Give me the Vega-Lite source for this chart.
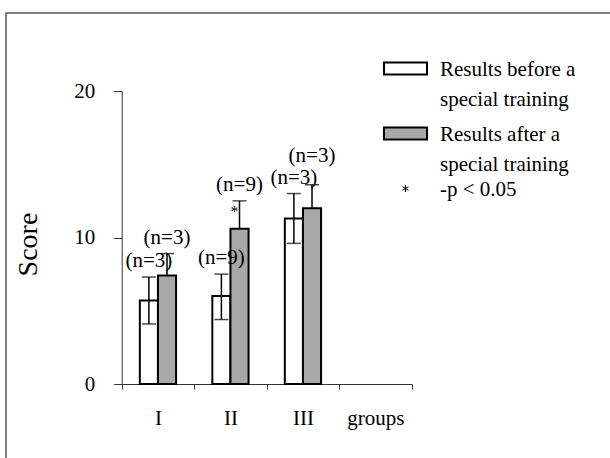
{
  "$schema": "https://vega.github.io/schema/vega-lite/v6.json",
  "width": 604,
  "height": 445,
  "autosize": {"type": "none"},
  "padding": {"left": 6, "top": 13, "right": 0, "bottom": 0},
  "background": "white",
  "config": {
    "view": {"stroke": "#555555", "strokeWidth": 1.5, "strokeDash": [604, 1049, 445]},
    "font": "Liberation Serif",
    "text": {"font": "Liberation Serif"},
    "legend": {"labelFont": "Liberation Serif"}
  },
  "data": {
    "values": [
      {"group": "I", "series": "before", "value": 5.7, "lo": 4.1, "hi": 7.3, "n": "(n=3)", "sig": false},
      {"group": "I", "series": "after", "value": 7.4, "lo": 5.9, "hi": 8.9, "n": "(n=3)", "sig": false},
      {"group": "II", "series": "before", "value": 6.0, "lo": 4.4, "hi": 7.5, "n": "(n=9)", "sig": false},
      {"group": "II", "series": "after", "value": 10.6, "lo": 8.7, "hi": 12.5, "n": "(n=9)", "sig": true},
      {"group": "III", "series": "before", "value": 11.3, "lo": 9.6, "hi": 13.0, "n": "(n=3)", "sig": false},
      {"group": "III", "series": "after", "value": 12.0, "lo": 10.4, "hi": 13.6, "n": "(n=3)", "sig": false}
    ]
  },
  "encoding": {
    "x": {
      "field": "group",
      "type": "nominal",
      "sort": null,
      "scale": {"domain": ["I", "II", "III", "groups"], "range": [115.7, 405.7], "paddingInner": 0, "paddingOuter": 0},
      "axis": {
        "title": null,
        "offset": -74,
        "labelAngle": 0,
        "labelFont": "Liberation Serif",
        "labelFontSize": 21,
        "labelColor": "black",
        "labelPadding": 18,
        "tickBand": "extent",
        "tickSize": 5,
        "domainColor": "#333333",
        "tickColor": "#333333",
        "encode": {"ticks": {"update": {"y": {"value": -5}}}}
      }
    },
    "xOffset": {
      "field": "series",
      "type": "nominal",
      "scale": {"domain": ["before", "after"], "paddingInner": 0, "paddingOuter": 1.1}
    }
  },
  "layer": [
    {
      "mark": {"type": "bar", "stroke": "black", "strokeWidth": 2},
      "encoding": {
        "y": {
          "field": "value",
          "type": "quantitative",
          "scale": {"domain": [0, 20], "range": [371, 78], "nice": false, "zero": true},
          "axis": {
            "values": [0, 10, 20],
            "offset": -115.7,
            "grid": false,
            "title": "Score",
            "titleFont": "Liberation Serif",
            "titleFontSize": 28,
            "titleFontWeight": "normal",
            "titleColor": "black",
            "titlePadding": 31,
            "titleY": 231,
            "labelFont": "Liberation Serif",
            "labelFontSize": 21,
            "labelColor": "black",
            "labelPadding": 19,
            "tickSize": 8,
            "domainColor": "#333333",
            "tickColor": "#333333",
            "encode": {"ticks": {"update": {"x": {"value": 8}}}}
          }
        },
        "fill": {
          "field": "series",
          "type": "nominal",
          "scale": {"domain": ["before", "after", "sig"], "range": ["white", "#a8a8a8", "white"]},
          "legend": {
            "orient": "none",
            "legendX": 389,
            "legendY": 45,
            "title": null,
            "padding": 0,
            "symbolType": "M-1,-0.279L1,-0.279L1,0.279L-1,0.279Z",
            "symbolSize": 1849,
            "symbolStrokeColor": "black",
            "symbolStrokeWidth": 2,
            "labelFont": "Liberation Serif",
            "labelFontSize": 21,
            "labelColor": "black",
            "labelLimit": 400,
            "labelOffset": 24,
            "labelBaseline": "alphabetic",
            "rowPadding": 3,
            "labelExpr": "datum.value == 'before' ? ['Results before a', 'special training'] : datum.value == 'after' ? ['Results after a', 'special training'] : '-p < 0.05'",
            "encode": {
              "symbols": {
                "update": {
                  "shape": {"signal": "datum.value == 'sig' ? 'M0,-0.16L0,0.16M-0.14,-0.08L0.14,0.08M-0.14,0.08L0.14,-0.08' : datum.value == 'before' ? 'M-1,-0.279L1,-0.279L1,0.279L-1,0.279ZM0,2.19' : 'M-1,-0.279L1,-0.279L1,0.279L-1,0.279Z'"},
                  "strokeWidth": {"signal": "datum.value == 'sig' ? 1 : 2"}
                }
              },
              "labels": {"update": {"font": {"value": "Liberation Serif"}, "lineHeight": {"value": 30}, "dy": {"value": 7}}}
            }
          }
        }
      }
    },
    {
      "transform": [{"filter": "datum.series == 'before'"}],
      "mark": {"type": "rule", "color": "black", "strokeWidth": 1.5},
      "encoding": {
        "y": {"field": "lo", "type": "quantitative"},
        "y2": {"field": "hi"}
      }
    },
    {
      "transform": [{"filter": "datum.series == 'after'"}],
      "mark": {"type": "rule", "color": "black", "strokeWidth": 1.5},
      "encoding": {
        "y": {"field": "value", "type": "quantitative"},
        "y2": {"field": "hi"}
      }
    },
    {
      "mark": {"type": "tick", "color": "black", "size": 14, "thickness": 1.5, "orient": "horizontal"},
      "encoding": {"y": {"field": "hi", "type": "quantitative"}}
    },
    {
      "transform": [{"filter": "datum.series == 'before'"}],
      "mark": {"type": "tick", "color": "black", "size": 14, "thickness": 1.5, "orient": "horizontal"},
      "encoding": {"y": {"field": "lo", "type": "quantitative"}}
    },
    {
      "transform": [{"filter": "!(datum.group == 'III' && datum.series == 'after')"}],
      "mark": {"type": "text", "font": "Liberation Serif", "fontSize": 21, "color": "black", "baseline": "alphabetic", "dy": -10},
      "encoding": {
        "y": {"field": "hi", "type": "quantitative"},
        "text": {"field": "n"}
      }
    },
    {
      "transform": [{"filter": "datum.group == 'III' && datum.series == 'after'"}],
      "mark": {"type": "text", "font": "Liberation Serif", "fontSize": 21, "color": "black", "baseline": "alphabetic", "dy": -23},
      "encoding": {
        "y": {"field": "hi", "type": "quantitative"},
        "text": {"field": "n"}
      }
    },
    {
      "transform": [{"filter": "datum.sig"}],
      "mark": {"type": "text", "font": "Liberation Serif", "fontSize": 16, "color": "black", "baseline": "alphabetic", "dx": -5, "dy": -12},
      "encoding": {
        "y": {"field": "value", "type": "quantitative"},
        "text": {"value": "*"}
      }
    }
  ]
}
